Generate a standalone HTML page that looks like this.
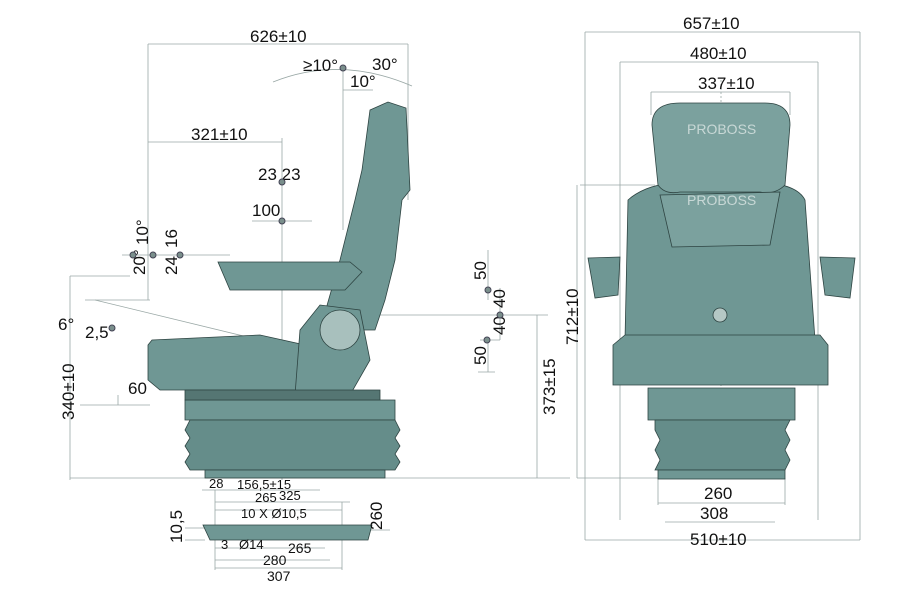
<!DOCTYPE html>
<html><head><style>
html,body{margin:0;padding:0;background:#fff;}
svg{display:block;font-family:"Liberation Sans",sans-serif;}
</style></head><body>
<svg width="914" height="610" viewBox="0 0 914 610" xmlns="http://www.w3.org/2000/svg">
<g stroke="#9aa8a6" stroke-width="0.8" fill="none">
<line x1="148" y1="44" x2="408" y2="44"/>
<line x1="148" y1="44" x2="148" y2="300"/>
<line x1="408" y1="44" x2="408" y2="200"/>
<line x1="148" y1="142" x2="282" y2="142"/>
<line x1="282" y1="138" x2="282" y2="480"/>
<line x1="343" y1="68" x2="343" y2="230"/>
<path d="M273 82 Q340 55 412 86"/>
<line x1="343" y1="90" x2="373" y2="90"/>
<line x1="252" y1="221" x2="312" y2="221"/>
<line x1="122" y1="255" x2="230" y2="255"/>
<line x1="70" y1="276" x2="130" y2="276"/>
<line x1="70" y1="276" x2="70" y2="480"/>
<line x1="85" y1="300" x2="150" y2="300"/>
<line x1="95" y1="300" x2="260" y2="340"/>
<line x1="118" y1="395" x2="118" y2="405"/>
<line x1="80" y1="405" x2="150" y2="405"/>
<line x1="70" y1="478" x2="570" y2="478"/>
<line x1="370" y1="315" x2="548" y2="315"/>
<line x1="537" y1="315" x2="537" y2="478"/>
<line x1="488" y1="250" x2="488" y2="300"/>
<line x1="500" y1="288" x2="500" y2="340"/>
<line x1="480" y1="340" x2="500" y2="340"/>
<line x1="488" y1="340" x2="488" y2="372"/>
<line x1="478" y1="372" x2="495" y2="372"/>
<line x1="202" y1="490" x2="320" y2="490"/>
<line x1="215" y1="502" x2="350" y2="502"/>
<line x1="215" y1="510" x2="342" y2="510"/>
<line x1="215" y1="548" x2="325" y2="548"/>
<line x1="215" y1="560" x2="330" y2="560"/>
<line x1="215" y1="568" x2="342" y2="568"/>
<line x1="215" y1="490" x2="215" y2="570"/>
<line x1="342" y1="502" x2="342" y2="570"/>
<line x1="185" y1="528" x2="205" y2="528"/>
<line x1="185" y1="540" x2="205" y2="540"/>
<line x1="370" y1="530" x2="390" y2="530"/>
<line x1="585" y1="32" x2="860" y2="32"/>
<line x1="585" y1="32" x2="585" y2="540"/>
<line x1="860" y1="32" x2="860" y2="540"/>
<line x1="620" y1="62" x2="818" y2="62"/>
<line x1="620" y1="62" x2="620" y2="520"/>
<line x1="818" y1="62" x2="818" y2="520"/>
<line x1="651" y1="92" x2="790" y2="92"/>
<line x1="651" y1="92" x2="651" y2="115"/>
<line x1="790" y1="92" x2="790" y2="115"/>
<line x1="580" y1="185" x2="655" y2="185"/>
<line x1="577" y1="185" x2="577" y2="478"/>
<line x1="577" y1="478" x2="660" y2="478"/>
<line x1="658" y1="478" x2="658" y2="505"/>
<line x1="785" y1="478" x2="785" y2="505"/>
<line x1="658" y1="503" x2="785" y2="503"/>
<line x1="665" y1="522" x2="775" y2="522"/>
<line x1="585" y1="540" x2="860" y2="540"/>
<line x1="721" y1="80" x2="721" y2="480" stroke-dasharray="2,2"/>
</g>
<g stroke="#2e4442" stroke-width="0.8" fill="#6f9794">
<path d="M370 110 L388 102 L406 108 L410 190 L402 200 L395 260 L385 300 L375 330 L320 330 L340 260 L355 200 L362 170 Z"/>
<path d="M218 262 L350 262 L362 272 L345 290 L230 290 Z"/>
<path d="M148 345 L152 340 L260 335 L305 345 L310 390 L160 390 L148 380 Z"/>
<path d="M300 330 L320 305 L360 310 L370 360 L350 395 L295 395 Z"/>
<circle cx="340" cy="330" r="20" fill="#a8c0bd"/>
<path d="M185 400 L395 400 L395 420 L185 420 Z"/>
<path d="M190 420 L395 420 L400 430 L395 438 L400 446 L395 454 L400 462 L395 470 L190 470 L185 462 L190 454 L185 446 L190 438 L185 430 Z" fill="#658d8a"/>
<rect x="205" y="470" width="180" height="8"/>
<path d="M203 525 L372 525 L368 540 L210 540 Z"/>
<path d="M185 390 L380 390 L380 400 L185 400 Z" fill="#557673"/>
</g>
<g stroke="#2e4442" stroke-width="0.8" fill="#6f9794">
<path d="M628 200 Q650 180 700 182 L740 182 Q795 180 805 200 L815 340 L625 340 Z"/>
<path d="M652 125 Q652 103 680 103 L765 103 Q790 103 790 125 L785 185 Q775 195 760 192 L680 192 Q665 195 658 185 Z" fill="#7ba19e"/>
<path d="M660 195 L780 192 L770 245 L672 247 Z" fill="#7ba19e"/>
<path d="M613 345 L625 335 L820 335 L828 345 L828 385 L613 385 Z"/>
<path d="M588 258 L620 257 L618 295 L595 298 Z"/>
<path d="M820 257 L855 258 L850 298 L825 295 Z"/>
<path d="M648 388 L795 388 L795 420 L648 420 Z"/>
<path d="M655 420 L790 420 L785 430 L790 440 L785 450 L790 460 L785 470 L655 470 L660 460 L655 450 L660 440 L655 430 Z" fill="#658d8a"/>
<rect x="658" y="470" width="127" height="9"/>
<circle cx="720" cy="315" r="7" fill="#b5c8c5"/>
</g>
<g fill="#c8d8d6" font-size="14">
<text x="687" y="134">PROBOSS</text>
<text x="687" y="205">PROBOSS</text>
</g>
<g fill="#111" font-size="17">
<text x="250" y="42">626±10</text>
<text x="303" y="71">≥10°</text>
<text x="372" y="70">30°</text>
<text x="350" y="87">10°</text>
<text x="191" y="140">321±10</text>
<text x="258" y="180">23 23</text>
<text x="252" y="216">100</text>
<text x="128" y="394">60</text>
<text x="209" y="488" font-size="13">28</text>
<text x="237" y="489" font-size="13">156,5±15</text>
<text x="255" y="502" font-size="13">265</text>
<text x="279" y="500" font-size="13">325</text>
<text x="241" y="518" font-size="13">10 X Ø10,5</text>
<text x="221" y="549" font-size="13">3</text>
<text x="239" y="549" font-size="13">Ø14</text>
<text x="288" y="553" font-size="14">265</text>
<text x="263" y="565" font-size="14">280</text>
<text x="267" y="581" font-size="14">307</text>
<text x="683" y="29">657±10</text>
<text x="690" y="59">480±10</text>
<text x="698" y="89">337±10</text>
<text x="704" y="499">260</text>
<text x="700" y="519">308</text>
<text x="690" y="545">510±10</text>
<text transform="translate(74,420) rotate(-90)">340±10</text>
<text transform="translate(555,415) rotate(-90)">373±15</text>
<text transform="translate(578,345) rotate(-90)">712±10</text>
<text transform="translate(382,530) rotate(-90)">260</text>
<text transform="translate(182,543) rotate(-90)">10,5</text>
<text transform="translate(145,275) rotate(-90)">20°</text>
<text transform="translate(148,245) rotate(-90)">10°</text>
<text transform="translate(177,275) rotate(-90)">24</text>
<text transform="translate(177,248) rotate(-90)">16</text>
<text transform="translate(486,280) rotate(-90)">50</text>
<text transform="translate(505,308) rotate(-90)">40</text>
<text transform="translate(505,335) rotate(-90)">40</text>
<text transform="translate(486,365) rotate(-90)">50</text>
<text x="58" y="330">6°</text>
<text x="85" y="338">2,5°</text>
</g>
<g fill="#7a8f8c" stroke="#445">
<circle cx="343" cy="68" r="3"/><circle cx="282" cy="182" r="3"/><circle cx="282" cy="221" r="3"/>
<circle cx="133" cy="255" r="3"/><circle cx="153" cy="255" r="3"/><circle cx="180" cy="255" r="3"/>
<circle cx="112" cy="328" r="3"/><circle cx="488" cy="290" r="3"/><circle cx="500" cy="315" r="3"/><circle cx="487" cy="340" r="3"/>
</g>
</svg>
</body></html>
